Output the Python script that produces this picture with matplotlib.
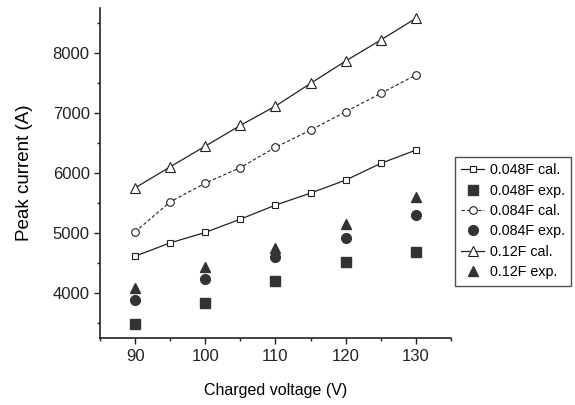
import numpy as np
import matplotlib
matplotlib.use("Agg")
import matplotlib.pyplot as plt
from matplotlib.ticker import MultipleLocator

plt.rcParams["font.family"] = ["Liberation Sans", "DejaVu Sans"]

# tensao de carga (V)
v_cal = [90, 95, 100, 105, 110, 115, 120, 125, 130]
v_exp = [90, 100, 110, 120, 130]

# corrente de pico calculada (A)
i_048_cal = [4617, 4838, 5012, 5233, 5467, 5667, 5883, 6162, 6383]
i_084_cal = [5022, 5522, 5833, 6092, 6430, 6717, 7022, 7328, 7633]
i_12_cal = [5755, 6105, 6450, 6795, 7117, 7495, 7867, 8217, 8578]

# corrente de pico experimental (A)
i_048_exp = [3483, 3833, 4200, 4517, 4678]
i_084_exp = [3883, 4233, 4595, 4922, 5300]
i_12_exp = [4088, 4438, 4745, 5150, 5605]

fig = plt.figure(figsize=(5.75, 4.05), dpi=100)
ax = fig.add_axes([0.174, 0.165, 0.61, 0.815])

escuro = "#333333"
ax.plot(v_cal, i_048_cal, "-", color="#222222", lw=0.9, marker="s", ms=5,
        mfc="white", mec="#222222", mew=0.8, label="0.048F cal.")
ax.plot(v_exp, i_048_exp, "s", color=escuro, ms=6.5, label="0.048F exp.")
ax.plot(v_cal, i_084_cal, "--", color="#222222", lw=0.8, dashes=(3, 2), marker="o",
        ms=5.5, mfc="white", mec="#222222", mew=0.8, label="0.084F cal.")
ax.plot(v_exp, i_084_exp, "o", color=escuro, ms=7, label="0.084F exp.")
ax.plot(v_cal, i_12_cal, "-", color="#222222", lw=0.9, marker="^", ms=6.5,
        mfc="white", mec="#222222", mew=0.8, label="0.12F cal.")
ax.plot(v_exp, i_12_exp, "^", color=escuro, ms=6.5, label="0.12F exp.")

ax.set_xlim(85, 135)
ax.set_ylim(3250, 8750)
ax.xaxis.set_major_locator(MultipleLocator(10))
ax.xaxis.set_minor_locator(MultipleLocator(5))
ax.yaxis.set_major_locator(MultipleLocator(1000))
ax.yaxis.set_minor_locator(MultipleLocator(500))

ax.spines["top"].set_visible(False)
ax.spines["right"].set_visible(False)
for s in ["left", "bottom"]:
    ax.spines[s].set_linewidth(1.2)
    ax.spines[s].set_color("#222222")

ax.tick_params(which="major", length=4, width=1, direction="out", labelsize=12,
               colors="#222222")
ax.tick_params(which="minor", length=2.5, width=1, direction="out", colors="#222222")

ax.set_xlabel("Charged voltage (V)", fontsize=11.5, labelpad=14)
ax.set_ylabel("Peak current (A)", fontsize=13.5, labelpad=14)

leg = ax.legend(loc="upper left", bbox_to_anchor=(1.011, 0.55, 0.0, 0.0),
                fontsize=10.3, frameon=True, fancybox=False, edgecolor="#222222",
                handlelength=1.6, handletextpad=0.4, borderpad=0.45,
                labelspacing=0.45, borderaxespad=0.0)
leg.get_frame().set_linewidth(1.0)

fig.savefig("out.png", dpi=100)
